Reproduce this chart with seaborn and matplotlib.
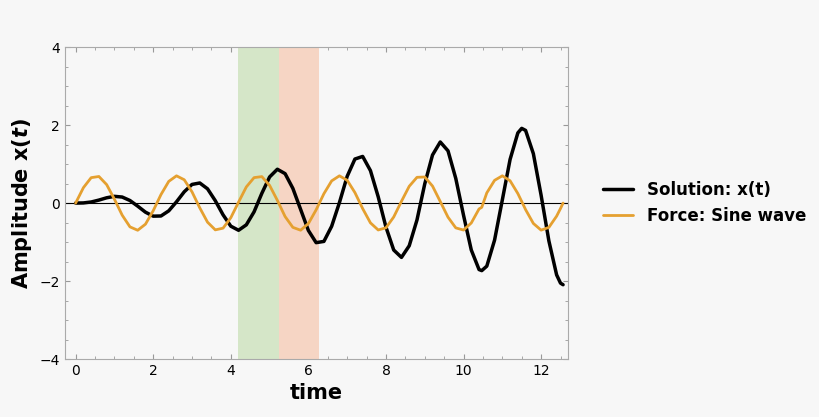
import matplotlib
matplotlib.use("Agg")
import matplotlib.pyplot as plt
import seaborn as sns
import pandas as pd
from matplotlib.ticker import MultipleLocator

time = [0,0.2,0.4,0.6,0.8,1.0,1.2,1.4,1.6,1.8,2.0,2.2,2.4,2.6,2.8,3.0,3.2,3.4,3.6,3.8,4.0,4.2,4.4,4.6,4.8,5.0,5.2,5.4,5.6,5.8,6.0,6.2,6.4,6.6,6.8,7.0,7.2,7.4,7.6,7.8,8.0,8.2,8.4,8.6,8.8,9.0,9.2,9.4,9.6,9.8,10.0,10.2,10.4,10.47,10.6,10.8,11.0,11.2,11.4,11.5,11.6,11.8,12.0,12.2,12.4,12.5,12.566]
solution = [0,.0039,.0276,.0768,.1359,.1728,.1548,.066,-.0787,-.2333,-.3356,-.3311,-.1993,.0321,.2898,.4784,.5155,.3659,.0616,-.3003,-.5924,-.6977,-.5581,-.2244,.2495,.6692,.8679,.7546,.3767,-.1624,-.702,-1.0151,-.9831,-.5957,.0104,.6855,1.1295,1.1963,.8334,.1621,-.6159,-1.2037,-1.3932,-1.0948,-.4327,.4913,1.2321,1.5672,1.3402,.6324,-.3121,-1.204,-1.7049,-1.7324,-1.6172,-.9504,.0798,1.1188,1.7997,1.9165,1.8636,1.2683,.2009,-.9682,-1.8411,-2.0527,-2.094]
force = [0,.395,.652,.682,.473,.099,-.310,-.610,-.697,-.541,-.196,.218,.556,.699,.598,.288,-.122,-.490,-.687,-.644,-.376,.024,.414,.653,.679,.455,.070,-.346,-.623,-.696,-.526,-.173,.240,.569,.699,.586,.269,-.142,-.507,-.690,-.634,-.357,.046,.431,.661,.669,.437,.040,-.362,-.636,-.692,-.510,-.150,-.109,.262,.583,.700,.573,.245,.040,-.168,-.522,-.694,-.624,-.335,-.139,0]
spans = [(4.189, 5.236, "#d5e6c8"), (5.236, 6.283, "#f6d5c4")]

df = pd.DataFrame({"time": time, "Solution: x(t)": solution, "Force: Sine wave": force})

sns.set_style("ticks")
fig = plt.figure(figsize=(8.2, 4.17), dpi=100, facecolor="#f7f7f7")
ax = fig.add_axes([0.079, 0.139, 0.614, 0.748])
ax.set_facecolor("#f7f7f7")
for a, b, c in spans:
    ax.axvspan(a, b, color=c, lw=0)
ax.axhline(0, color="black", lw=0.8)
sns.lineplot(data=df, x="time", y="Solution: x(t)", ax=ax, color="black", lw=2.5, label="Solution: x(t)")
sns.lineplot(data=df, x="time", y="Force: Sine wave", ax=ax, color="#e5a030", lw=2, label="Force: Sine wave")
for l in ax.lines:
    l.set_solid_joinstyle("round")
ax.set_xlim(-0.28, 12.7)
ax.set_ylim(-4, 4)
ax.xaxis.set_major_locator(MultipleLocator(2))
ax.xaxis.set_minor_locator(MultipleLocator(0.5))
ax.yaxis.set_major_locator(MultipleLocator(2))
ax.yaxis.set_minor_locator(MultipleLocator(0.5))
ax.tick_params(which="both", direction="in", top=True, right=True, colors="#999999", labelcolor="black", labelsize=10)
ax.tick_params(which="minor", length=2)
for s in ax.spines.values():
    s.set_color("#aaaaaa")
ax.set_xlabel("time", fontsize=15, fontweight="bold", color="black")
ax.set_ylabel(r"Amplitude x($\boldsymbol{t}$)", fontsize=15, fontweight="bold", color="black")
leg = ax.legend(loc="center left", bbox_to_anchor=(1.04, 0.5), frameon=False,
                prop={"weight": "bold", "size": 12}, handlelength=1.8)
for t in leg.get_texts():
    t.set_color("black")
fig.savefig("out.png", dpi=100, facecolor=fig.get_facecolor())
